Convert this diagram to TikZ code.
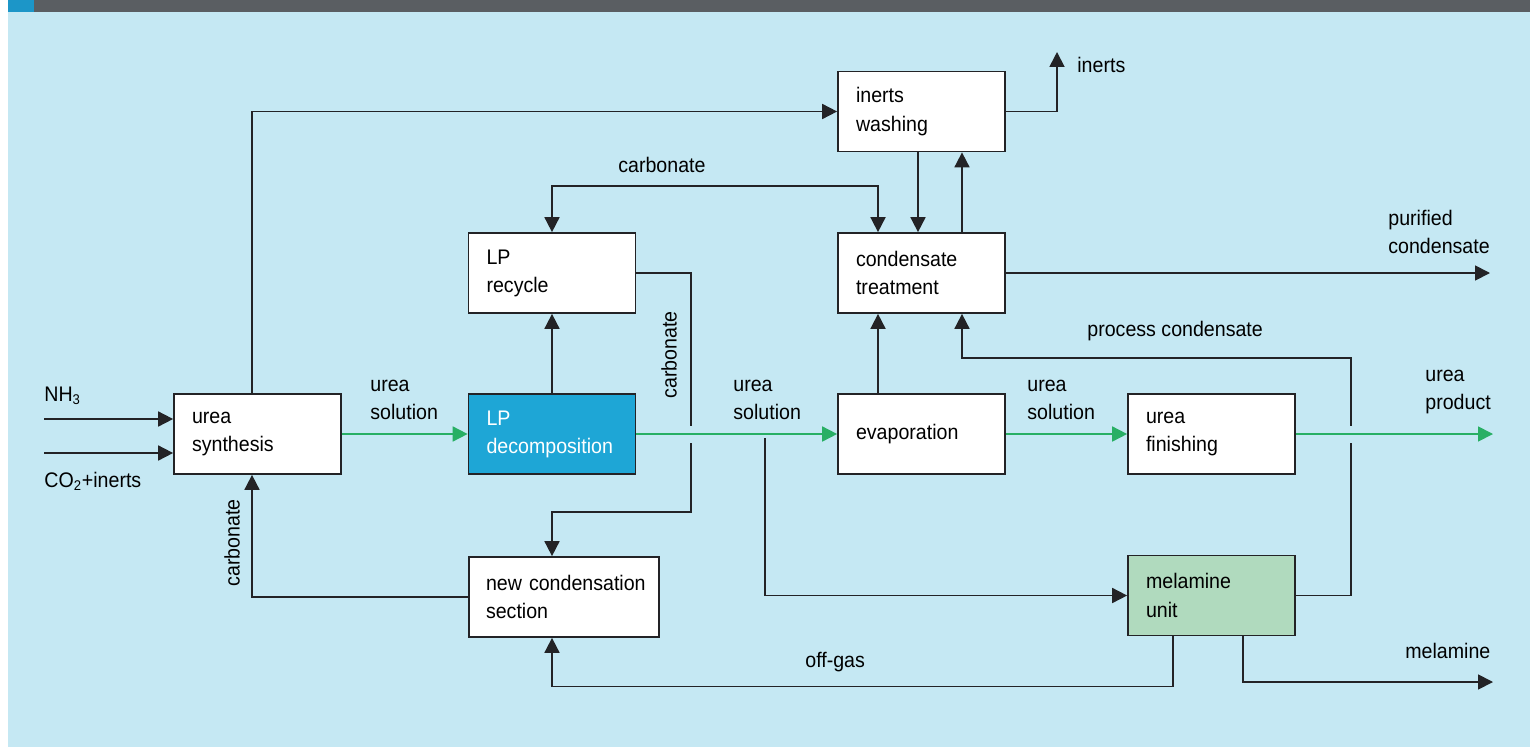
\documentclass[tikz,border=0pt]{standalone}
\usepackage{fontspec}
\setmainfont{Liberation Sans}[FakeStretch=0.93]
\usepackage{xcolor}
\usepackage{tikz}
\usetikzlibrary{arrows.meta}
\definecolor{skyback}{RGB}{197,232,243}
\definecolor{topbar}{RGB}{90,94,98}
\definecolor{tabblue}{RGB}{28,150,200}
\definecolor{lpblue}{RGB}{30,166,214}
\definecolor{melgreen}{RGB}{176,218,190}
\definecolor{flowgreen}{RGB}{40,175,100}
\definecolor{inkline}{RGB}{35,35,38}

\begin{document}
\begin{tikzpicture}[x=0.02cm, y=-0.02cm,
  font=\fontsize{12pt}{16pt}\selectfont,
  unit/.style={draw=inkline, line width=0.035cm, fill=#1, minimum height=1.6cm,
               text width=2.62cm, inner xsep=0.36cm, align=left},
  unit/.default=white,
  flow/.style={draw=inkline, line width=0.035cm,
               -{Triangle[length=0.3cm, width=0.3cm]}},
  plain/.style={draw=inkline, line width=0.035cm},
  product/.style={draw=flowgreen, line width=0.035cm,
               -{Triangle[length=0.3cm, width=0.3cm]},
               preaction={draw=skyback, line width=0.34cm, -}},
  tag/.style={inner sep=0pt, anchor=west, align=left},
]
\useasboundingbox (0,0) rectangle (1530,747);
% Hintergrund
\fill[white] (0,0) rectangle (1530,747);
\fill[skyback] (8,12) rectangle (1530,747);
\fill[topbar] (8,0) rectangle (1530,12);
\fill[tabblue] (8,0) rectangle (34,12);

% Anlagenteile
\node[unit] (usyn) at (257.5,434) {urea\\synthesis};
\node[unit=lpblue, text=white] (lpdec) at (552,434) {LP\\decomposition};
\node[unit] (lprec) at (552,273) {LP\\recycle};
\node[unit, text width=3.12cm, inner xsep=0.34cm] (newcond) at (564,597)
  {\mbox{new condensation}\\section};
\node[unit] (inwash) at (921.5,111.5) {inerts\\washing};
\node[unit] (condtr) at (921.5,273) {condensate\\treatment};
\node[unit] (evap) at (921.5,434) {evaporation};
\node[unit] (ufin) at (1211.5,434) {urea\\finishing};
\node[unit=melgreen] (melam) at (1211.5,595.5) {melamine\\unit};

% freie Enden
\coordinate (nh3in) at (44,419);
\coordinate (co2in) at (44,453);
\coordinate (inertsout) at (1057,52);
\coordinate (pcout) at (1490,273);
\coordinate (prodout) at (1493,434);
\coordinate (melout) at (1493,682);
\coordinate (branch) at (765,438);

% Leitungen, die von Harnstoff gekreuzt werden
\draw[flow] (lprec.east) -| (691,512) -| ([xshift=-0.24cm]newcond.north);
\draw[flow] (melam.east) -| (1351,358) -| ([xshift=0.81cm]condtr.south);

% Harnstoffstrom
\draw[product] (usyn.east) -- (lpdec.west);
\draw[product] (lpdec.east) -- (evap.west);
\draw[product] (evap.east) -- (ufin.west);
\draw[product] (ufin.east) -- (prodout);

% Eintritt
\draw[flow] (nh3in) -- (nh3in -| usyn.west);
\draw[flow] (co2in) -- (co2in -| usyn.west);

% uebrige Leitungen
\draw[flow] ([xshift=-0.11cm]usyn.north) |- (inwash.west);
\draw[flow] (lpdec.north) -- (lprec.south);
\draw[{Triangle[length=0.3cm, width=0.3cm]}-{Triangle[length=0.3cm, width=0.3cm]},
      plain] (lprec.north) |- (878,186) -- ([xshift=-0.87cm]condtr.north);
\draw[flow] ([xshift=-0.07cm]inwash.south) -- ([xshift=-0.07cm]condtr.north);
\draw[flow] ([xshift=0.81cm]condtr.north) -- ([xshift=0.81cm]inwash.south);
\draw[flow] (inwash.east) -| (inertsout);
\draw[flow] (condtr.east) -- (pcout);
\draw[flow] ([xshift=-0.87cm]evap.north) -- ([xshift=-0.87cm]condtr.south);
\draw[flow] (branch) |- (melam.west);
\draw[flow] ([xshift=-0.77cm]melam.south) -- ++(0,50) -| ([xshift=-0.24cm]newcond.south);
\draw[flow] ([xshift=0.63cm]melam.south) |- (melout);
\draw[flow] (newcond.west) -| ([xshift=-0.11cm]usyn.south);

% Beschriftungen
\node[tag] (lnh3) at (44,396) {NH\textsubscript{3}};
\node[tag] (lco2) at (44,481) {CO\textsubscript{2}+inerts};
\node[tag] (lsol1) at (370,400) {urea\\solution};
\node[tag] (lsol2) at (733,400) {urea\\solution};
\node[tag] (lsol3) at (1027,400) {urea\\solution};
\node[tag] (lprod) at (1425,392) {urea\\product};
\node[tag] (lpur) at (1388,232) {purified\\condensate};
\node[tag] (linerts) at (1077,65) {inerts};
\node[tag] (lcarb) at (618,165) {carbonate};
\node[tag] (lproc) at (1087,331) {process condensate};
\node[tag] (loff) at (805,662) {off-gas};
\node[tag] (lmel) at (1405,651) {melamine};
\node[inner sep=0pt, rotate=90] (lcarbr) at (669,355) {carbonate};
\node[inner sep=0pt, rotate=90] (lcarbl) at (232,543) {carbonate};
\end{tikzpicture}
\end{document}
